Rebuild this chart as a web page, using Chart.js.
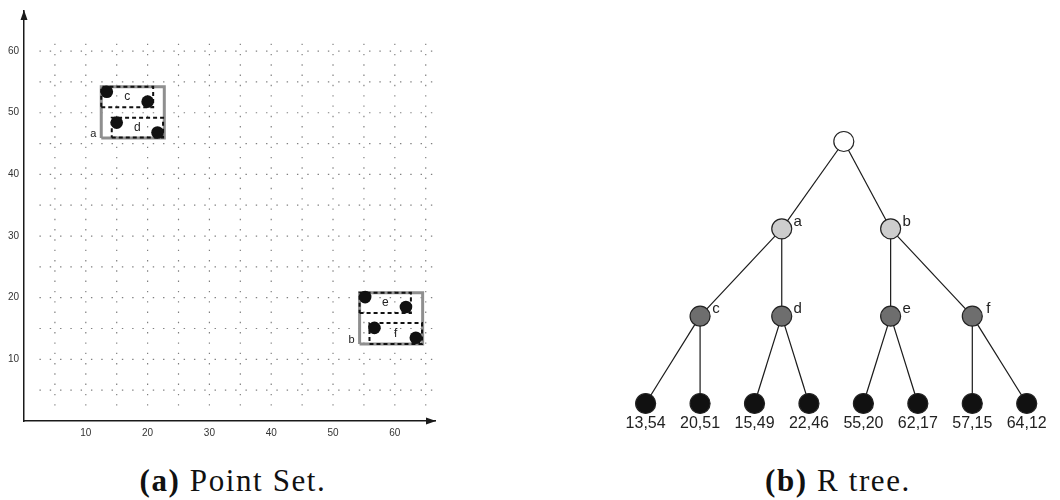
<!DOCTYPE html>
<html>
<head>
<meta charset="utf-8">
<script src="https://cdn.jsdelivr.net/npm/chart.js@4.4.1/dist/chart.umd.min.js"></script>
<style>
  html, body { margin: 0; padding: 0; background: #fff; overflow: hidden; }
  body { width: 1060px; height: 500px; position: relative; }
  canvas { position: absolute; }
  #points { left: 0; top: 0; }
  #tree { left: 580px; top: 91px; }
  .cap { position: absolute; top: 462px; width: 360px; text-align: center; color: #111;
         font-family: "Liberation Serif", "DejaVu Serif", serif; font-size: 31px; line-height: 38px;
         letter-spacing: 1.6px; }
  .cap b { font-weight: bold; }
</style>
</head>
<body>
<canvas id="points" width="450" height="450"></canvas>
<canvas id="tree" width="477" height="363"></canvas>
<div class="cap" style="left:53px"><b>(a)</b> Point Set.</div>
<div class="cap" style="left:658px"><b>(b)</b> R tree.</div>
<script>
// ---- data ----
// plotted positions of the eight points
const pointX = [13.4, 20.0, 15.0, 21.6, 55.2, 61.8, 56.7, 63.4];
const pointY = [53.4, 51.8, 48.4, 46.8, 20.1, 18.5, 15.1, 13.5];
// the coordinates written under the tree leaves
const leafLabels = ["13,54", "20,51", "15,49", "22,46", "55,20", "62,17", "57,15", "64,12"];

// bounding rectangles (a, b = level 1; c..f = level 2)
const rectNames = ["a", "b", "c", "d", "e", "f"];
const rectLevel = [1, 1, 2, 2, 2, 2];
const rectX0 = [12.5, 54.3, 12.5, 14.2, 54.3, 55.9];
const rectX1 = [22.7, 64.5, 20.9, 22.5, 62.6, 64.4];
const rectY0 = [45.9, 12.5, 50.9, 46.0, 17.5, 12.5];
const rectY1 = [54.2, 20.8, 54.2, 49.2, 20.8, 15.9];

const xTicks = [10, 20, 30, 40, 50, 60];
const yTicks = [10, 20, 30, 40, 50, 60];

// tree: root, a, b, c, d, e, f, then the 8 leaves
const treeNames = ["", "a", "b", "c", "d", "e", "f", ...leafLabels];
const treeParent = [-1, 0, 0, 1, 1, 2, 2, 3, 3, 4, 4, 5, 5, 6, 6];
const treeLevel = [0, 1, 1, 2, 2, 2, 2, 3, 3, 3, 3, 3, 3, 3, 3];
const treeSlot = [3.64, 2.5, 4.5, 1, 2.5, 4.5, 6, 0, 1, 2, 3, 4, 5, 6, 7];

// ---- styles ----
const INK = "#1a1a1a";
const levelFill = ["#ffffff", "#cdcdcd", "#6e6e6e", "#111111"];
const SANS = "'Liberation Sans', Arial, sans-serif";

// ---- point set chart ----
const dotGrid = {
  id: "dotGrid",
  beforeDatasetsDraw(chart) {
    const { ctx, scales: { x, y } } = chart;
    const step = x.getPixelForValue(5 / 3) - x.getPixelForValue(0);
    ctx.save();
    ctx.strokeStyle = "#808080";
    ctx.lineWidth = 1.2;
    ctx.setLineDash([1.4, step - 1.4]);
    for (let v = 5; v <= 60; v += 5) {
      ctx.beginPath();
      ctx.moveTo(x.getPixelForValue(2.5), y.getPixelForValue(v));
      ctx.lineTo(x.getPixelForValue(66.2), y.getPixelForValue(v));
      ctx.stroke();
    }
    for (let v = 5; v <= 65; v += 5) {
      ctx.beginPath();
      ctx.moveTo(x.getPixelForValue(v), y.getPixelForValue(2.5));
      ctx.lineTo(x.getPixelForValue(v), y.getPixelForValue(62));
      ctx.stroke();
    }
    ctx.restore();
  },
};

const arrows = {
  id: "arrows",
  afterDraw(chart) {
    const { ctx, chartArea: a } = chart;
    ctx.save();
    ctx.fillStyle = INK;
    ctx.beginPath();
    ctx.moveTo(a.left, a.top - 1);
    ctx.lineTo(a.left - 3.5, a.top + 9);
    ctx.lineTo(a.left + 3.5, a.top + 9);
    ctx.closePath();
    ctx.fill();
    ctx.beginPath();
    ctx.moveTo(a.right + 1, a.bottom);
    ctx.lineTo(a.right - 9, a.bottom - 3.5);
    ctx.lineTo(a.right - 9, a.bottom + 3.5);
    ctx.closePath();
    ctx.fill();
    ctx.restore();
  },
};

const rectLabels = {
  id: "rectLabels",
  afterDatasetsDraw(chart) {
    const { ctx, scales: { x, y } } = chart;
    ctx.save();
    ctx.fillStyle = "#222";
    ctx.textAlign = "center";
    ctx.textBaseline = "middle";
    rectNames.forEach((n, i) => {
      if (rectLevel[i] === 1) {
        ctx.font = `11px ${SANS}`;
        ctx.fillText(n, x.getPixelForValue(rectX0[i]) - 8, y.getPixelForValue(rectY0[i]) - 4);
      } else {
        ctx.font = `12px ${SANS}`;
        ctx.fillText(n, x.getPixelForValue((rectX0[i] + rectX1[i]) / 2), y.getPixelForValue((rectY0[i] + rectY1[i]) / 2));
      }
    });
    ctx.restore();
  },
};

const rectSets = rectNames.map((n, i) => {
  const lvl1 = rectLevel[i] === 1;
  return {
    label: n,
    showLine: true,
    data: [
      { x: rectX0[i], y: rectY0[i] }, { x: rectX1[i], y: rectY0[i] },
      { x: rectX1[i], y: rectY1[i] }, { x: rectX0[i], y: rectY1[i] },
      { x: rectX0[i], y: rectY0[i] },
    ],
    borderColor: lvl1 ? "#8f8f8f" : "#111",
    borderWidth: lvl1 ? 3 : 2,
    borderDash: lvl1 ? [] : [4, 3],
    pointRadius: 0,
    fill: false,
    order: lvl1 ? 2 : 1,
  };
});

const axisOpts = (ticks) => ({
  type: "linear",
  min: 0,
  max: 66.5,
  border: { display: true, color: INK, width: 1.5 },
  grid: { display: false, drawTicks: false },
  ticks: {
    stepSize: 10,
    autoSkip: false,
    maxRotation: 0,
    color: "#333",
    font: { family: SANS, size: 10 },
    callback: (v) => (ticks.includes(v) ? v : ""),
  },
});

const xOpts = axisOpts(xTicks);
xOpts.ticks.padding = 6;
xOpts.afterFit = (s) => { s.height = 29; };
const yOpts = axisOpts(yTicks);
yOpts.ticks.padding = 5;
yOpts.afterFit = (s) => { s.width = 24; };

new Chart(document.getElementById("points"), {
  type: "scatter",
  data: {
    datasets: [
      {
        label: "points",
        data: pointX.map((x, i) => ({ x, y: pointY[i] })),
        pointRadius: 6.3,
        pointBackgroundColor: "#111",
        pointBorderWidth: 0,
        order: 0,
      },
      ...rectSets,
    ],
  },
  options: {
    responsive: false,
    animation: false,
    layout: { padding: { left: 0, top: 10, right: 15, bottom: 0 } },
    plugins: { legend: { display: false }, tooltip: { enabled: false } },
    scales: { x: xOpts, y: yOpts },
  },
  plugins: [dotGrid, rectLabels, arrows],
});

// ---- R tree chart ----
const treeLabels = {
  id: "treeLabels",
  afterDatasetsDraw(chart) {
    const { ctx, scales: { x, y } } = chart;
    ctx.save();
    ctx.fillStyle = "#222";
    ctx.textAlign = "center";
    ctx.textBaseline = "middle";
    treeNames.forEach((n, i) => {
      if (!n) return;
      const px = x.getPixelForValue(treeSlot[i]), py = y.getPixelForValue(treeLevel[i]);
      if (treeLevel[i] === 3) {
        ctx.font = `16px ${SANS}`;
        ctx.fillText(n, px, py + 20);
      } else {
        ctx.font = `15px ${SANS}`;
        ctx.fillText(n, px + 16, py - 7);
      }
    });
    ctx.restore();
  },
};

const edgeSets = [];
treeParent.forEach((p, i) => {
  if (p < 0) return;
  edgeSets.push({
    showLine: true,
    data: [{ x: treeSlot[p], y: treeLevel[p] }, { x: treeSlot[i], y: treeLevel[i] }],
    borderColor: INK,
    borderWidth: 1.2,
    pointRadius: 0,
    order: 1,
    clip: false,
  });
});

new Chart(document.getElementById("tree"), {
  type: "scatter",
  data: {
    datasets: [
      {
        label: "nodes",
        data: treeSlot.map((s, i) => ({ x: s, y: treeLevel[i] })),
        pointRadius: 10,
        pointBackgroundColor: treeLevel.map((l) => levelFill[l]),
        pointBorderColor: "#222",
        pointBorderWidth: 1.2,
        order: 0,
        clip: false,
      },
      ...edgeSets,
    ],
  },
  options: {
    responsive: false,
    animation: false,
    layout: { padding: 0 },
    plugins: { legend: { display: false }, tooltip: { enabled: false } },
    scales: {
      x: { type: "linear", display: false, min: -1, max: 7.35 },
      y: { type: "linear", display: false, min: -0.45, max: 3.45, reverse: true },
    },
  },
  plugins: [treeLabels],
});
</script>
</body>
</html>
